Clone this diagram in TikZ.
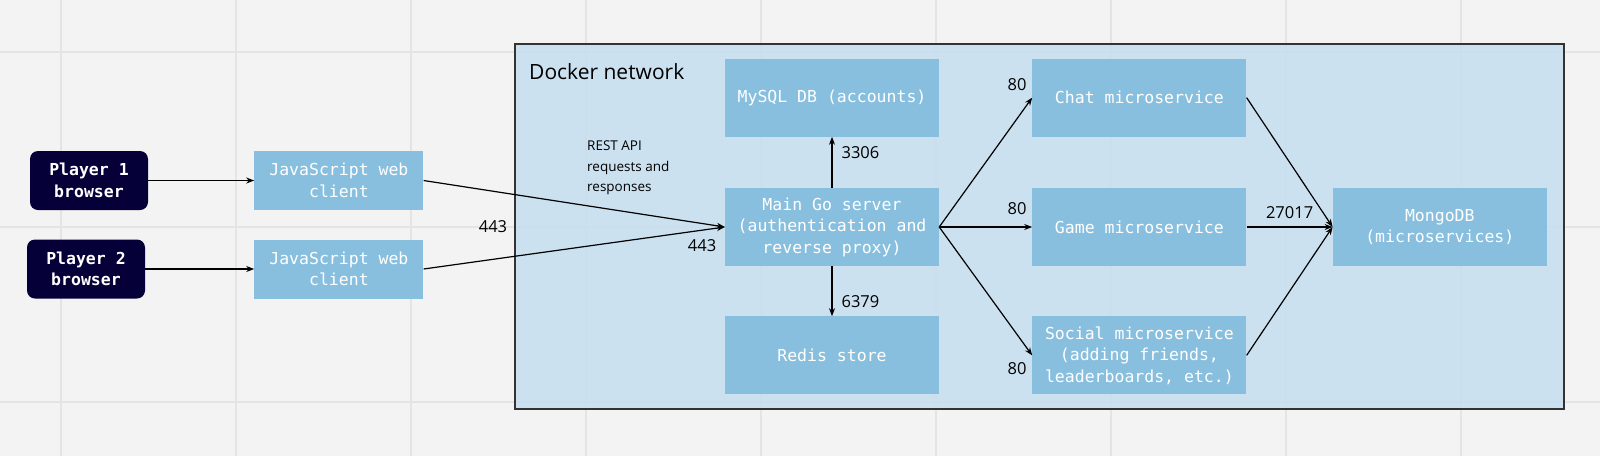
\documentclass[tikz,border=0pt]{standalone}
\usepackage{fontspec}
\setmainfont{Open Sans}
\newfontfamily\monofont{DejaVu Sans Mono}
\usepackage{tikz}
\usetikzlibrary{positioning,arrows.meta}
\definecolor{canvas}{HTML}{F3F3F3}
\definecolor{gridline}{HTML}{E4E4E4}
\definecolor{navy}{HTML}{050038}
\definecolor{svcblue}{HTML}{88BFDE}
\definecolor{netblue}{RGB}{198,222,240}

\begin{document}
\begin{tikzpicture}[x=1pt,y=-1pt,player/.style={fill=navy,rounded corners=8pt,minimum width=118pt,minimum height=59pt,inner sep=0pt,align=center,text=white,font=\monofont\bfseries\fontsize{16.5}{21.5}\selectfont}, client/.style={fill=svcblue,minimum width=169pt,minimum height=59pt,inner sep=0pt,align=center,text=white,font=\monofont\fontsize{16.5}{21.5}\selectfont}, svc/.style={client,minimum width=214pt,minimum height=78pt}, net/.style={draw=black!80,line width=1.5pt,fill=netblue,fill opacity=0.85,minimum width=1049pt,minimum height=365pt,inner sep=0pt}, msg/.style={-{Stealth[length=8pt,width=6pt]},line width=1.2pt}, port/.style={inner sep=0pt,font=\fontsize{16.5}{20}\selectfont}]
        \useasboundingbox (0,0) rectangle (1600,456);
        \fill[canvas] (0,0) rectangle (1600,456);
        \foreach \gx in {61,236,...,1461} \draw[gridline,line width=2pt] (\gx,0) -- (\gx,456);
        \foreach \gy in {52,227,402} \draw[gridline,line width=2pt] (0,\gy) -- (1600,\gy);
        
        \node[net] (docker) at (1039.5,226.5) {};
        \node[anchor=west,inner sep=0pt,font=\fontsize{21}{25}\selectfont] (netlabel) at (529,72) {Docker network};
        
        \node[player] (p1) at (89,180.5) {Player 1\\browser};
        \node[player] (p2) at (86,269) {Player 2\\browser};
        
        \node[client] (js1) [right = 106pt of p1] {JavaScript web\\client};
        \node[client] (js2) [right = 109pt of p2] {JavaScript web\\client};
        
        \node[svc] (main) at (832,227) {Main Go server\\(authentication and\\reverse proxy)};
        \node[svc] (mysql) [above = 51pt of main] {MySQL DB (accounts)};
        \node[svc] (redis) [below = 50pt of main] {Redis store};
        
        \node[svc] (game) [right = 93pt of main] {Game microservice};
        \node[svc] (chat) [above = 51pt of game] {Chat microservice};
        \node[svc] (social) [below = 50pt of game] {Social microservice\\(adding friends,\\leaderboards, etc.)};
        
        \node[svc] (mongo) [right = 86pt of game] {MongoDB\\(microservices)};
        
        \node[anchor=north west,align=left,inner sep=0pt,font=\fontsize{13.5}{20.5}\selectfont] (restnote) at (587,141) {REST API\\requests and\\responses};
        \node[port] (port443) at (493,227) {443};
        
        \path (p1) edge[msg] (js1);
        \path (p2) edge[msg] (js2);
        \path (js1.east) edge[msg] (main.west);
        \path (js2.east) edge[msg] node[port,pos=1,below left=12pt and 8pt] {443} (main.west);
        
        \path (main) edge[msg] node[port,pos=0.7,right=9pt] {3306} (mysql);
        \path (main) edge[msg] node[port,pos=0.7,right=9pt] {6379} (redis);
        
        \path (main.east) edge[msg] node[port,pos=1,above left=6pt and 5pt] {80} (chat.west);
        \path (main.east) edge[msg] node[port,pos=1,above left=12pt and 5pt] {80} (game.west);
        \path (main.east) edge[msg] node[port,pos=1,below left=7pt and 5pt] {80} (social.west);
        
        \path (chat.east) edge[msg] (mongo.west);
        \path (game.east) edge[msg] node[port,midway,above=8pt] {27017} (mongo.west);
        \path (social.east) edge[msg] (mongo.west);
    \end{tikzpicture}
\end{document}
